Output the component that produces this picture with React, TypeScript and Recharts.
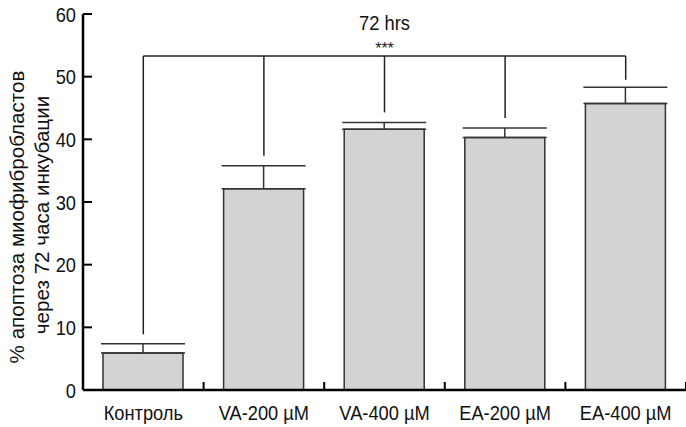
import React from 'react';
import { BarChart, Bar, XAxis, YAxis, ErrorBar, ReferenceLine, Label } from 'recharts';

const categories = ['Контроль', 'VA-200 µM', 'VA-400 µM', 'EA-200 µM', 'EA-400 µM'];
const means = [5.9, 32.1, 41.6, 40.3, 45.7];
const upperErr = [1.5, 3.7, 1.1, 1.5, 2.6];
const bracketDrop = [8.9, 37.4, 44.3, 43.4, 49.5];
const bracketLevel = 53.3;
const yTicks = [0, 10, 20, 30, 40, 50, 60];
const yLabelLines = ['% апоптоза миофибробластов', 'через 72 часа инкубации'];
const titleText = '72 hrs';
const sigText = '***';

const data = categories.map((c, i) => ({ name: c, value: means[i], err: [0, upperErr[i]] }));

const FONT = '"Liberation Sans", Arial, Helvetica, sans-serif';
const SX = 0.87;

const XTick = (props: any) => {
  const { x, y, payload } = props;
  const half = payload && typeof payload.offset === 'number' && payload.offset > 0 ? payload.offset : 60.3;
  return (
    <g>
      <line x1={x + half} x2={x + half} y1={y} y2={y - 8} stroke="#000" strokeWidth={2} />
      <text transform={`translate(${x}, ${y + 30}) scale(${SX}, 1)`} textAnchor="middle" fontFamily={FONT} fontSize={21} fill="#111">
        {payload.value}
      </text>
    </g>
  );
};

const YTick = (props: any) => {
  const { x, y, payload } = props;
  return (
    <g>
      <line x1={x + 7} x2={x + 16} y1={y} y2={y} stroke="#000" strokeWidth={2} />
      <text transform={`translate(${x}, ${y + 7.5}) scale(${SX}, 1)`} textAnchor="end" fontFamily={FONT} fontSize={21} fill="#111">
        {payload.value}
      </text>
    </g>
  );
};

const YLabel = (props: any) => {
  const vb = props.viewBox || { x: 0, y: 14, width: 83, height: 376 };
  const cy = vb.y + vb.height / 2 + 15;
  return (
    <g>
      <text transform={`translate(23.5, ${cy}) rotate(-90)`} textAnchor="middle" fontFamily={FONT} fontSize={20.6} fill="#111">
        {yLabelLines[0]}
      </text>
      <text transform={`translate(48.5, ${cy - 2}) rotate(-90)`} textAnchor="middle" fontFamily={FONT} fontSize={20.6} fill="#111">
        {yLabelLines[1]}
      </text>
    </g>
  );
};

const TopText = (props: any) => {
  const vb = props.viewBox || { x: 0, y: 0, width: 0, height: 0 };
  const cx = vb.x + (vb.width || 0) / 2;
  const y = vb.y;
  return (
    <g>
      <text transform={`translate(${cx}, ${y - 26}) scale(${SX}, 1)`} textAnchor="middle" fontFamily={FONT} fontSize={21} fill="#111">
        {titleText}
      </text>
      <text transform={`translate(${cx}, ${y - 1.5})`} textAnchor="middle" fontFamily={FONT} fontSize={16} fill="#222">
        {sigText}
      </text>
    </g>
  );
};

export default function App() {
  return (
    <div style={{ position: 'absolute', left: 0, top: 0, background: '#fff' }}>
      <BarChart width={686} height={427} data={data} margin={{ top: 14, right: 0, bottom: 1, left: 0 }} barSize={80}>
        <XAxis
          dataKey="name"
          height={36}
          tickSize={0}
          tickMargin={0}
          tickLine={false}
          axisLine={{ stroke: '#000', strokeWidth: 2.5 }}
          tick={<XTick />}
          interval={0}
        />
        <YAxis
          width={83}
          domain={[0, 60]}
          ticks={yTicks}
          tickSize={0}
          tickMargin={7}
          tickLine={false}
          axisLine={{ stroke: '#000', strokeWidth: 2.5 }}
          tick={<YTick />}
          interval={0}
        >
          <Label content={<YLabel />} />
        </YAxis>
        <Bar dataKey="value" fill="#d3d3d4" stroke="#333" strokeWidth={1.5} isAnimationActive={false}>
          <ErrorBar dataKey="err" width={42} stroke="#333" strokeWidth={1.5} direction="y" />
        </Bar>
        <ReferenceLine
          segment={[{ x: categories[0], y: bracketLevel }, { x: categories[categories.length - 1], y: bracketLevel }]}
          stroke="#222"
          strokeWidth={1.5}
          ifOverflow="visible"
        >
          <Label content={<TopText />} />
        </ReferenceLine>
        {categories.map((c, i) => (
          <ReferenceLine
            key={c}
            segment={[{ x: c, y: bracketLevel }, { x: c, y: bracketDrop[i] }]}
            stroke="#222"
            strokeWidth={1.5}
            ifOverflow="visible"
          />
        ))}
      </BarChart>
    </div>
  );
}
